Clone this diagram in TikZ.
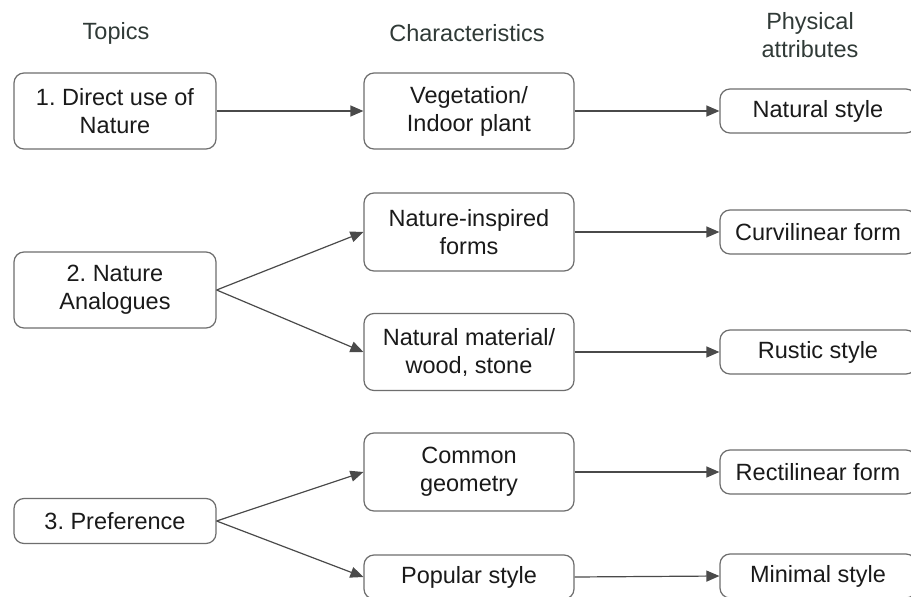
\documentclass[tikz,border=0pt]{standalone}
\usepackage{fontspec}
\setmainfont{Liberation Sans}
\frenchspacing
\usetikzlibrary{arrows.meta}
\definecolor{boxline}{HTML}{6E6E6E}
\definecolor{arrowcol}{HTML}{4A4A4A}
\definecolor{headcol}{HTML}{303A37}
\definecolor{txtcol}{HTML}{1A1A1A}
\tikzset{
  box/.style={draw=boxline, line width=1.2pt, rounded corners=10pt, fill=white,
    align=center, inner sep=0pt, text=txtcol,
    font=\fontsize{23.5}{28}\selectfont},
  topicbox/.style={box, minimum width=202pt},
  charbox/.style={box, minimum width=210pt},
  physbox/.style={box, minimum width=196pt, minimum height=44pt},
  header/.style={text=headcol, align=center, inner sep=0pt,
    font=\fontsize{23.5}{28}\selectfont},
  conn/.style={draw=arrowcol, line width=1.2pt,
    -{Triangle[length=13pt,width=11pt]}}
}
\begin{document}
\begin{tikzpicture}[x=1pt,y=-1pt]
\useasboundingbox (0,0) rectangle (911,597);
\clip (0,0) rectangle (911,597);
\fill[white] (0,0) rectangle (911,597);
% headers
\node[header] (h1) at (116,33) {Topics};
\node[header] (h2) at (467,33) {Characteristics};
\node[header] (h3) at (810,35) {Physical\\attributes};
% topics
\node[topicbox, minimum height=76pt] (t1) at (115,111) {1. Direct use of\\Nature};
\node[topicbox, minimum height=76pt] (t2) at (115,290) {2. Nature\\Analogues};
\node[topicbox, minimum height=45pt] (t3) at (115,521) {3. Preference};
% characteristics
\node[charbox, minimum height=76pt] (c1) at (469,111) {Vegetation/\\Indoor plant};
\node[charbox, minimum height=78pt] (c2) at (469,232) {Nature-inspired\\forms};
\node[charbox, minimum height=77pt] (c3) at (469,352) {Natural material/\\wood, stone};
\node[charbox, minimum height=78pt] (c4) at (469,472) {Common\\geometry};
\node[charbox, minimum height=44pt] (c5) at (469,577) {Popular style};
% physical attributes
\node[physbox] (p1) at (818,111) {Natural style};
\node[physbox] (p2) at (818,232) {Curvilinear form};
\node[physbox] (p3) at (818,352) {Rustic style};
\node[physbox] (p4) at (818,472) {Rectilinear form};
\node[physbox] (p5) at (818,576) {Minimal style};
% connectors
\draw[conn] (t1.east) -- (c1.west);
\draw[conn] (t2.east) -- (c2.west);
\draw[conn] (t2.east) -- (c3.west);
\draw[conn] (t3.east) -- (c4.west);
\draw[conn] (t3.east) -- (c5.west);
\draw[conn] (c1.east) -- (p1.west);
\draw[conn] (c2.east) -- (p2.west);
\draw[conn] (c3.east) -- (p3.west);
\draw[conn] (c4.east) -- (p4.west);
\draw[conn] (c5.east) -- (p5.west);
\end{tikzpicture}
\end{document}
